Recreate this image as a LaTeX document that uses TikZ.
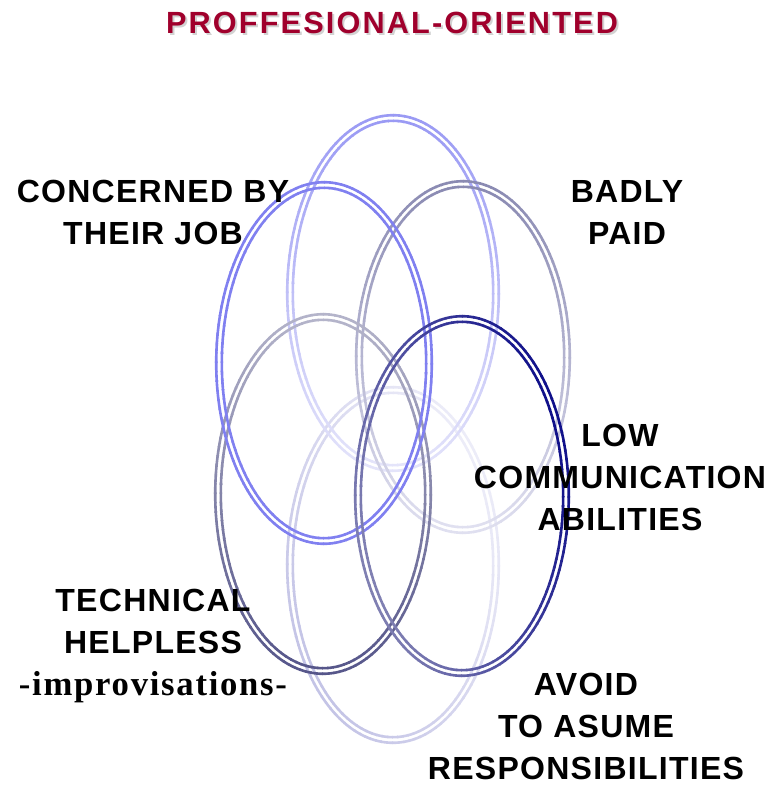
\documentclass[tikz,border=0pt]{standalone}
\usepackage{fontspec}
\setmainfont{Liberation Sans}
\newfontfamily\labelfont[LetterSpace=4]{Liberation Sans}
\newfontfamily\titlefont[LetterSpace=7]{Liberation Sans}
\newfontfamily\notefont[LetterSpace=5]{Liberation Serif}

\definecolor{topdark}{HTML}{9A9AF4}
\definecolor{toplight}{HTML}{E4E4FA}
\definecolor{ulblue}{HTML}{8080F0}
\definecolor{urdark}{HTML}{8A8AB2}
\definecolor{urlight}{HTML}{E0E0F0}
\definecolor{ldark}{HTML}{56568A}
\definecolor{llight}{HTML}{B4B4CA}
\definecolor{rdark}{HTML}{10108A}
\definecolor{rlight}{HTML}{8080B2}
\definecolor{bdark}{HTML}{C4C4E6}
\definecolor{blight}{HTML}{ECECF8}
\definecolor{titlered}{HTML}{A0002C}

\newcommand{\ring}[7]{%
  \pgfmathsetmacro{\rxo}{#3+2.8}\pgfmathsetmacro{\ryo}{#4+2.8}%
  \pgfmathsetmacro{\rxi}{#3-2.8}\pgfmathsetmacro{\ryi}{#4-2.8}%
  \foreach \a in {0,3,...,357}{
    \pgfmathsetmacro{\m}{50+50*cos(\a-#7)}
    \draw[ringline, draw=#5!\m!#6] (#1,#2) ++(\a:\rxo\space and \ryo) arc[start angle=\a, end angle=\a+3.5, x radius=\rxo, y radius=\ryo];
    \draw[ringline, draw=#5!\m!#6] (#1,#2) ++(\a:\rxi\space and \ryi) arc[start angle=\a, end angle=\a+3.5, x radius=\rxi, y radius=\ryi];
  }}

\begin{document}
\begin{tikzpicture}[x=0.75pt, y=-0.75pt, ringline/.style={line width=1.95pt, line cap=butt}]

        \useasboundingbox (0,0) rectangle (776,785);

        \ring{393}{565}{103}{175}{bdark}{blight}{135}
        \ring{393}{293}{103}{175}{topdark}{toplight}{270}
        \ring{463}{357}{104}{173}{urdark}{urlight}{270}
        \ring{323}{494}{105}{177}{ldark}{llight}{90}
        \ring{324}{363}{105}{178}{ulblue}{ulblue}{0}
        \ring{462}{496}{104}{177}{rdark}{rlight}{330}

        \begin{scope}[every node/.style={inner sep=0pt, anchor=north, align=center,
            font={\labelfont\bfseries\fontsize{24}{31.5}\selectfont}}]

          \node (t0s) at (394,14) {\titlefont\bfseries\fontsize{23}{26}\selectfont\color{gray!35}PROFFESIONAL-ORIENTED};
          \node (t0)  at (392,12)  {\titlefont\bfseries\fontsize{23}{26}\selectfont\color{titlered}PROFFESIONAL-ORIENTED};

          \node (t1) at (153,180) {CONCERNED BY\\THEIR JOB};
          \node (t2) at (627,180) {BADLY\\PAID};
          \node (t3) at (620,424) {LOW\\COMMUNICATION\\ABILITIES};
          \node (t4) at (153,589) {TECHNICAL\\HELPLESS\\{\notefont\bfseries\fontsize{26}{31.5}\selectfont -improvisations-}};
          \node (t5) at (586,673) {AVOID\\TO ASUME\\RESPONSIBILITIES};
        \end{scope}

      \end{tikzpicture}
\end{document}
